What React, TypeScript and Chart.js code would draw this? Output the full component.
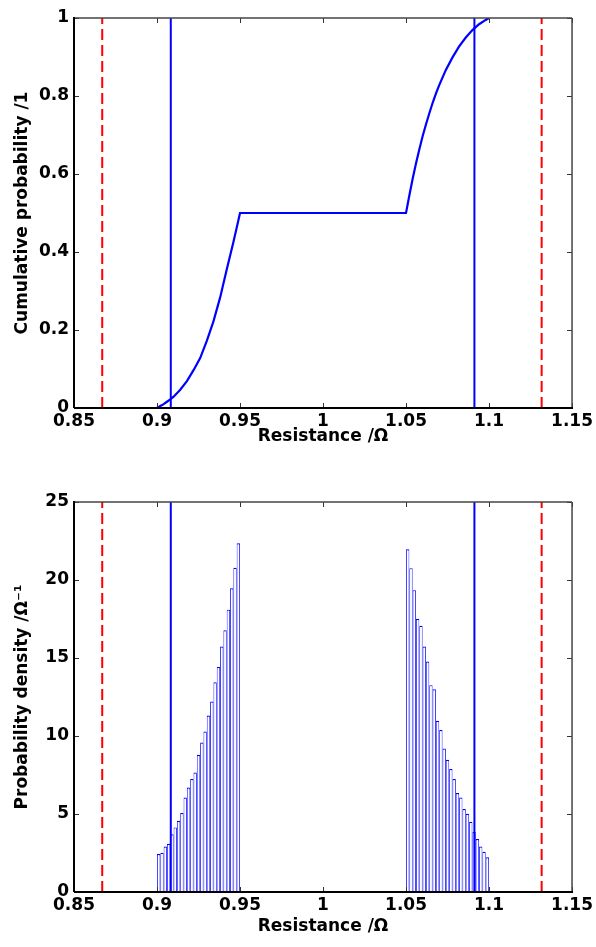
import React, { useEffect, useRef } from "react";
import { Chart, registerables } from "chart.js";

Chart.register(...registerables);

// ---------- data ----------
const xTicks = [0.85, 0.9, 0.95, 1, 1.05, 1.1, 1.15];
const cdfTicks = [0, 0.2, 0.4, 0.6, 0.8, 1];
const pdfTicks = [0, 5, 10, 15, 20, 25];

// blue solid limits and red dashed limits (resistance, ohm)
const blueLimits = [0.9083, 1.0912];
const redLimits = [0.867, 1.1317];

// cumulative probability curve
const cdfR = [
  0.9, 0.902, 0.904, 0.906, 0.908, 0.91, 0.914, 0.918, 0.922, 0.926, 0.93, 0.934, 0.938,
  0.942, 0.946, 0.948, 0.95, 1.0, 1.05, 1.052, 1.054, 1.056, 1.058, 1.06, 1.062, 1.064,
  1.066, 1.068, 1.07, 1.074, 1.078, 1.082, 1.086, 1.09, 1.094, 1.098, 1.1,
];
const cdfP = [
  0, 0.005, 0.01, 0.016, 0.022, 0.029, 0.047, 0.069, 0.097, 0.128, 0.172, 0.222, 0.283,
  0.355, 0.425, 0.462, 0.5, 0.5, 0.5, 0.545, 0.588, 0.627, 0.663, 0.697, 0.727, 0.755,
  0.782, 0.806, 0.828, 0.867, 0.899, 0.927, 0.95, 0.969, 0.984, 0.995, 1.0,
];

// histogram bin centres and probability densities
const lowBins = [
  0.901, 0.903, 0.905, 0.907, 0.909, 0.911, 0.913, 0.915, 0.917, 0.919, 0.921, 0.923, 0.925,
  0.927, 0.929, 0.931, 0.933, 0.935, 0.937, 0.939, 0.941, 0.943, 0.945, 0.947, 0.949,
];
const lowDensity = [
  2.43, 2.52, 2.92, 3.09, 3.7, 4.14, 4.57, 5.06, 6.06, 6.7, 7.24, 7.66, 8.8, 9.58, 10.29,
  11.31, 12.21, 13.45, 14.43, 15.73, 16.78, 18.1, 19.47, 20.79, 22.36,
];
const highBins = [
  1.051, 1.053, 1.055, 1.057, 1.059, 1.061, 1.063, 1.065, 1.067, 1.069, 1.071, 1.073, 1.075,
  1.077, 1.079, 1.081, 1.083, 1.085, 1.087, 1.089, 1.091, 1.093, 1.095, 1.097, 1.099,
];
const highDensity = [
  21.97, 20.76, 19.35, 17.51, 17.06, 15.73, 14.77, 13.26, 13.0, 10.97, 10.38, 9.2, 8.48,
  7.88, 7.24, 6.34, 6.06, 5.32, 5.02, 4.5, 3.84, 3.4, 2.92, 2.58, 2.22,
];

// ---------- styling ----------
const FONT = { family: "'DejaVu Sans', 'Liberation Sans', sans-serif", size: 17, weight: "bold" as const };
const BLUE = "#0000ff";
const RED = "#ff0000";
const W = 596;
const PLOT_LEFT = 74;
const PLOT_RIGHT = 574;

const fmt = (v: number) => `${+Number(v).toFixed(2)}`;

const boxPlugin = {
  id: "matlabBox",
  afterDraw(chart: any) {
    const { ctx, chartArea: a, scales } = chart;
    const xs = scales.x;
    const ys = scales.y;
    ctx.save();
    ctx.strokeStyle = "#333";
    ctx.lineWidth = 1;
    const seg = (x1: number, y1: number, x2: number, y2: number) => {
      ctx.beginPath();
      ctx.moveTo(x1, y1);
      ctx.lineTo(x2, y2);
      ctx.stroke();
    };
    xs.ticks.forEach((t: any) => {
      const px = Math.round(xs.getPixelForValue(t.value)) + 0.5;
      seg(px, a.bottom, px, a.bottom - 5);
      seg(px, a.top, px, a.top + 5);
    });
    ys.ticks.forEach((t: any) => {
      const py = Math.round(ys.getPixelForValue(t.value)) + 0.5;
      seg(a.left, py, a.left + 5, py);
      seg(a.right, py, a.right - 5, py);
    });
    // top and right borders
    ctx.strokeStyle = "#444";
    ctx.lineWidth = 1.5;
    seg(a.left, a.top, a.right, a.top);
    seg(a.right, a.top, a.right, a.bottom);
    // left and bottom axes
    ctx.strokeStyle = "#000";
    ctx.lineWidth = 2;
    seg(a.left, a.bottom, a.right + 1, a.bottom);
    seg(a.left, a.top - 1, a.left, a.bottom);
    ctx.restore();
  },
};

function vline(x: number, top: number, color: string, dash: number[]) {
  return {
    type: "line" as const,
    data: [
      { x, y: 0 },
      { x, y: top },
    ],
    borderColor: color,
    borderWidth: 2,
    borderDash: dash,
    pointRadius: 0,
    order: 0,
  };
}

function makeOptions(
  height: number,
  plotTop: number,
  plotBottom: number,
  yMax: number,
  yTicks: number[],
  yTitle: string,
  xTitlePad: number
) {
  return {
    animation: false,
    responsive: false,
    maintainAspectRatio: false,
    events: [],
    layout: { padding: { left: 0, right: W - PLOT_RIGHT, top: plotTop, bottom: 0 } },
    plugins: { legend: { display: false }, tooltip: { enabled: false } },
    scales: {
      x: {
        type: "linear",
        min: 0.85,
        max: 1.15,
        offset: false,
        afterBuildTicks: (s: any) => {
          s.ticks = xTicks.map((v) => ({ value: v }));
        },
        afterFit: (s: any) => {
          s.height = height - plotBottom;
        },
        grid: { display: false, drawTicks: false, offset: false },
        border: { display: false },
        ticks: { font: FONT, color: "#000", padding: 3, maxRotation: 0, autoSkip: false, callback: (v: any) => fmt(v) },
        title: { display: true, text: "Resistance /Ω", font: FONT, color: "#000", padding: { top: 0, bottom: xTitlePad } },
      },
      y: {
        type: "linear",
        min: 0,
        max: yMax,
        afterBuildTicks: (s: any) => {
          s.ticks = yTicks.map((v) => ({ value: v }));
        },
        afterFit: (s: any) => {
          s.width = PLOT_LEFT;
        },
        grid: { display: false, drawTicks: false },
        border: { display: false },
        ticks: { font: FONT, color: "#000", padding: 5, autoSkip: false, callback: (v: any) => fmt(v) },
        title: { display: true, text: yTitle, font: FONT, color: "#000", padding: { top: 12, bottom: 0 } },
      },
    },
  };
}

function CdfChart() {
  const ref = useRef<HTMLCanvasElement | null>(null);
  useEffect(() => {
    if (!ref.current) return;
    const chart = new Chart(ref.current, {
      type: "line",
      data: {
        datasets: [
          vline(redLimits[0], 1, RED, [11, 5]),
          vline(redLimits[1], 1, RED, [11, 5]),
          vline(blueLimits[0], 1, BLUE, []),
          vline(blueLimits[1], 1, BLUE, []),
          {
            type: "line",
            data: cdfR.map((r, i) => ({ x: r, y: cdfP[i] })),
            borderColor: BLUE,
            borderWidth: 2.2,
            pointRadius: 0,
            tension: 0,
            order: 1,
          },
        ],
      },
      options: makeOptions(470, 18, 408, 1, cdfTicks, "Cumulative probability /1", 23) as any,
      plugins: [boxPlugin],
    } as any);
    return () => chart.destroy();
  }, []);
  return (
    <canvas
      ref={ref}
      width={W}
      height={470}
      style={{ position: "absolute", left: 0, top: 0, width: W, height: 470 }}
    />
  );
}

function PdfChart() {
  const ref = useRef<HTMLCanvasElement | null>(null);
  useEffect(() => {
    if (!ref.current) return;
    const barStyle = {
      type: "bar" as const,
      backgroundColor: "#ffffff",
      borderColor: BLUE,
      borderWidth: { left: 0.85, right: 0.85, top: 1.2, bottom: 0 },
      borderSkipped: false,
      barPercentage: 1,
      categoryPercentage: 1,
      grouped: false,
      inflateAmount: 0,
      order: 2,
    };
    const chart = new Chart(ref.current, {
      type: "bar",
      data: {
        datasets: [
          { ...barStyle, data: lowBins.map((b, i) => ({ x: b, y: lowDensity[i] })) },
          { ...barStyle, data: highBins.map((b, i) => ({ x: b, y: highDensity[i] })) },
          vline(redLimits[0], 25, RED, [11, 5]),
          vline(redLimits[1], 25, RED, [11, 5]),
          vline(blueLimits[0], 25, BLUE, []),
          vline(blueLimits[1], 25, BLUE, []),
        ],
      },
      options: makeOptions(477, 32, 422, 25, pdfTicks, "Probability density /Ω⁻¹", 10) as any,
      plugins: [boxPlugin],
    } as any);
    return () => chart.destroy();
  }, []);
  return (
    <canvas
      ref={ref}
      width={W}
      height={477}
      style={{ position: "absolute", left: 0, top: 470, width: W, height: 477 }}
    />
  );
}

export default function App() {
  return (
    <div style={{ position: "absolute", left: 0, top: 0, width: W, height: 947, background: "#fff" }}>
      <CdfChart />
      <PdfChart />
    </div>
  );
}
